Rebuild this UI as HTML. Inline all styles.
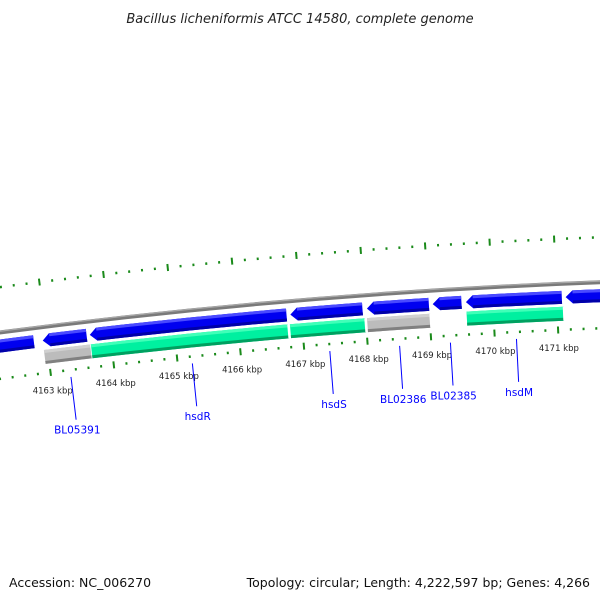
<!DOCTYPE html>
<html><head><meta charset="utf-8"><style>
body{margin:0;background:#fff;}
svg{display:block;font-family:"DejaVu Sans","Liberation Sans",sans-serif;}
</style></head><body>
<svg id="chart" width="600" height="600" viewBox="0 0 600 600">
<text x="300" y="23" text-anchor="middle" font-size="13" font-style="italic" fill="#222">Bacillus licheniformis ATCC 14580, complete genome</text>
<text x="9" y="587" font-size="12.5" fill="#111">Accession: NC_006270</text>
<text x="590" y="587" text-anchor="end" font-size="12.5" fill="#111">Topology: circular; Length: 4,222,597 bp; Genes: 4,266</text>
<g id="plot"></g>
</svg>
<script>
// data (kbp)
const tickStart = 4161;
const tickEnd = 4173;
const tickLabels = ["4163 kbp","4164 kbp","4165 kbp","4166 kbp","4167 kbp","4168 kbp","4169 kbp","4170 kbp","4171 kbp"];
const tickLabelValues = [4163,4164,4165,4166,4167,4168,4169,4170,4171];
const geneStarts = [4161.5,4162.92,4163.66,4166.81,4168.01,4169.04,4169.56,4171.12];
const geneEnds   = [4162.80,4163.63,4166.77,4167.96,4169.00,4169.51,4171.08,4172.2];
const featStarts = [4162.94,4163.68,4166.81,4168.02,4169.58];
const featEnds   = [4163.68,4166.78,4167.99,4169.01,4171.10];
const featTypes  = ["grey","green","green","grey","green"];
const labelNames = ["BL05391","hsdR","hsdS","BL02386","BL02385","hsdM"];
const labelPos   = [4163.31,4165.23,4167.40,4168.50,4169.30,4170.34];

const NS="http://www.w3.org/2000/svg";
const plot=document.getElementById('plot');
const cx=835, cy=6707, R=6429;
const theta=k=>-0.12321+(k-4163)*0.009977;
const pt=(k,r)=>[cx+r*Math.sin(theta(k)), cy-r*Math.cos(theta(k))];
function mk(tag,attrs){const e=document.createElementNS(NS,tag);for(const a in attrs)e.setAttribute(a,attrs[a]);plot.appendChild(e);return e;}
function arcPath(k1,k2,r){const a=pt(k1,r),b=pt(k2,r);return `M${a[0]},${a[1]} A${r},${r} 0 0 1 ${b[0]},${b[1]}`;}
function band(k1,k2,r1,r2){
 const a=pt(k1,r1),b=pt(k2,r1),c=pt(k2,r2),d=pt(k1,r2);
 return `M${a[0]},${a[1]} A${r1},${r1} 0 0 1 ${b[0]},${b[1]} L${c[0]},${c[1]} A${r2},${r2} 0 0 0 ${d[0]},${d[1]} Z`;}
function arrowL(k1,k2,r1,r2){
 const head=7/(R*0.009977);const kh=Math.min(k1+head,k2);
 const rm=(r1+r2)/2;
 const t=pt(k1,rm),a=pt(kh,r1),b=pt(k2,r1),c=pt(k2,r2),d=pt(kh,r2);
 return `M${t[0]},${t[1]} L${a[0]},${a[1]} A${r1},${r1} 0 0 1 ${b[0]},${b[1]} L${c[0]},${c[1]} A${r2},${r2} 0 0 0 ${d[0]},${d[1]} Z`;}

let e=mk('path',{d:arcPath(4161,4173,R),stroke:'#7a7a7a','stroke-width':4,fill:'none'});


e=mk('path',{d:arcPath(4161,4173,R+1.2),stroke:'#a8a8a8','stroke-width':1.2,fill:'none'});



for(let i=0;i<=(tickEnd-tickStart)*5;i++){
 const k=tickStart+i*0.2;const major=(i%5===0);
 [[R+45,'outer'],[R-46,'inner']].forEach(([r,w])=>{
  const len=major?7:2.5;
  const a=pt(k,r+len/2),b=pt(k,r-len/2);
  const t=mk('line',{x1:a[0],y1:a[1],x2:b[0],y2:b[1],stroke:'#1a8a1a','stroke-width':2});
  
  
 });
}
tickLabelValues.forEach((k,i)=>{
 const p=pt(k,R-64);
 const t=mk('text',{x:p[0],y:p[1]+3,'text-anchor':'middle','font-size':8.5,fill:'#222'});
 t.textContent=tickLabels[i];
 
 
});

geneStarts.forEach((s,i)=>{
 const g=mk('path',{d:arrowL(s+0.02,geneEnds[i],R-7,R-20),fill:'#0000f0'});
 
 
 const h=mk('path',{d:band(s+0.13,geneEnds[i],R-7,R-10),fill:'#4a4aff'});
 
 
 const d=mk('path',{d:band(s+0.13,geneEnds[i],R-17,R-20),fill:'#0000a8'});
 
 
});
featStarts.forEach((s,i)=>{
 const grey=featTypes[i]==='grey';
 const f=mk('path',{d:band(s,featEnds[i],R-23,R-37),fill:grey?'#bcbcbc':'#00f0a0'});
 
 
 const h=mk('path',{d:band(s,featEnds[i],R-23,R-26),fill:grey?'#d0d0d0':'#40ffb8'});
 
 
 const d=mk('path',{d:band(s,featEnds[i],R-34,R-37),fill:grey?'#808080':'#00a060'});
 
 
 const sep=pt(featEnds[i],R-23),sep2=pt(featEnds[i],R-37);
 const l=mk('line',{x1:sep[0],y1:sep[1],x2:sep2[0],y2:sep2[1],stroke:'#fff','stroke-width':1.5});
 
 
});
labelPos.forEach((k,i)=>{
 const a=pt(k,R-53),b=pt(k,R-96),c=pt(k,R-106);
 const l=mk('line',{x1:a[0],y1:a[1],x2:b[0],y2:b[1],stroke:'#0000ff','stroke-width':1});
 
 
 const t=mk('text',{x:c[0],y:c[1]+4,'text-anchor':'middle','font-size':10.5,fill:'#0000ff'});
 t.textContent=labelNames[i];
 
 
});
</script>
</body></html>
